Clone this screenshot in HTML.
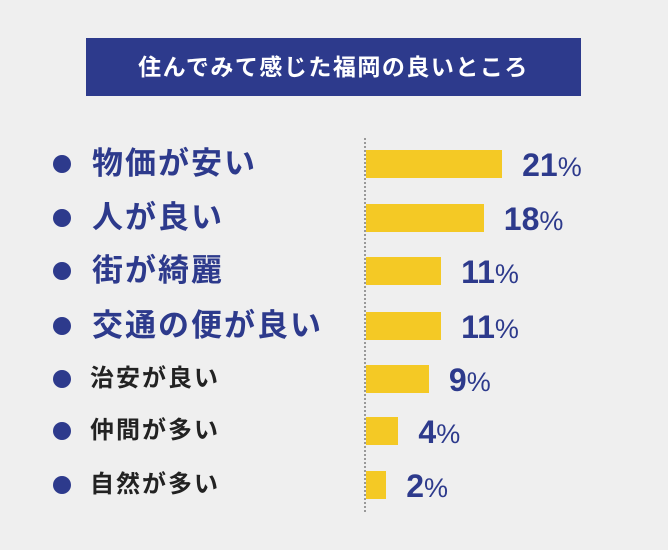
<!DOCTYPE html>
<html><head><meta charset="utf-8"><style>
body{margin:0;width:668px;height:550px;background:#efefef;overflow:hidden;font-family:"Liberation Sans","Noto Sans CJK JP",sans-serif;position:relative}
.title{position:absolute;left:86px;top:38px;width:495px;height:58px;background:#2d3a8c;color:#fff;font-weight:bold;font-size:23px;line-height:58px;text-align:center;letter-spacing:1.5px}
.vline{position:absolute;left:364px;top:138px;height:374px;border-left:2px dotted #999}
.row{position:absolute;left:0;width:668px;height:30px}
.dot{position:absolute;left:53px;top:6px;width:18px;height:18px;border-radius:50%;background:#2d3a8c}
.lab{position:absolute;left:92px;top:0;line-height:30px;white-space:nowrap;font-weight:bold}
.bar{position:absolute;left:366px;top:1px;height:28px;background:#f4c925}
.val{position:absolute;top:-1px;line-height:34px;font-size:32px;font-weight:bold;color:#2d3a8c;white-space:nowrap}
.val small{font-size:27px;font-weight:normal}
</style></head><body>
<div class="title">住んでみて感じた福岡の良いところ</div>
<div class="vline"></div>
<div id="chart"></div>
<script>
const categories=["物価が安い","人が良い","街が綺麗","交通の便が良い","治安が良い","仲間が多い","自然が多い"];
const values=[21,18,11,11,9,4,2];
const emphasis=[1,1,1,1,0,0,0];
const tops=[149,203,256,311,364,416,470];
function x(v){return 8+v*6.1;}
const c=document.getElementById('chart');
categories.forEach((cat,i)=>{
 const r=document.createElement('div');r.className='row';r.style.top=tops[i]+'px';
 
 
 const d=document.createElement('div');d.className='dot';
 
 
 const l=document.createElement('div');l.className='lab';l.textContent=cat;
 l.style.fontSize=emphasis[i]?'31px':'24px';l.style.color=emphasis[i]?'#2d3a8c':'#222';
 l.style.letterSpacing=emphasis[i]?'2px':'2px';
 if(!emphasis[i])l.style.left='90px';
 
 
 const b=document.createElement('div');b.className='bar';b.style.width=x(values[i])+'px';
 
 
 const v=document.createElement('div');v.className='val';v.style.left=(366+x(values[i])+20)+'px';
 v.innerHTML=values[i]+'<small>%</small>';
 
 
 r.append(d,l,b,v);c.appendChild(r);
});
</script>
</body></html>
